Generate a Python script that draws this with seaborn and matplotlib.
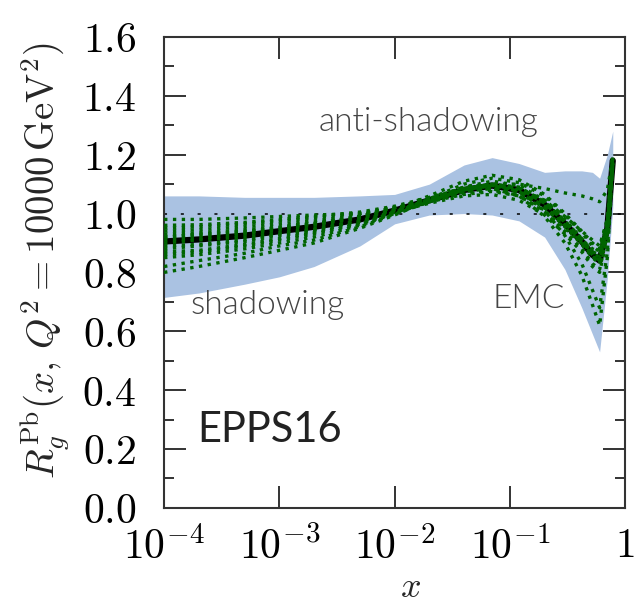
import numpy as np
import pandas as pd
import matplotlib
matplotlib.use("Agg")
import matplotlib.pyplot as plt
import seaborn as sns

x_nodes = [1e-4, 2e-4, 5e-4, 1e-3, 2e-3, 5e-3, 1e-2, 2e-2, 4e-2, 7e-2,
           0.12, 0.2, 0.3, 0.42, 0.52, 0.6, 0.7, 0.78]

central = [0.905, 0.912, 0.925, 0.94, 0.955, 0.98, 1.01, 1.045, 1.08, 1.095,
           1.08, 1.03, 0.965, 0.905, 0.86, 0.84, 0.95, 1.18]

band_hi = [1.06, 1.06, 1.055, 1.055, 1.055, 1.06, 1.065, 1.10, 1.165, 1.19,
           1.17, 1.14, 1.145, 1.145, 1.14, 1.12, 1.20, 1.28]
band_lo = [0.715, 0.73, 0.76, 0.785, 0.82, 0.89, 0.965, 0.995, 1.0, 0.995,
           0.975, 0.92, 0.81, 0.68, 0.59, 0.53, 0.78, 1.02]

# error-set members
members = [
    [0.98, 0.98, 0.985, 0.99, 0.995, 1.0, 1.02, 1.04, 1.065, 1.075, 1.06, 1.01, 0.95, 0.9, 0.87, 0.86, 0.96, 1.17],
    [0.80, 0.82, 0.85, 0.875, 0.90, 0.95, 0.995, 1.045, 1.09, 1.11, 1.095, 1.045, 0.98, 0.915, 0.87, 0.85, 0.95, 1.19],
    [0.95, 0.955, 0.965, 0.975, 0.985, 1.0, 1.02, 1.05, 1.08, 1.09, 1.07, 1.02, 0.955, 0.895, 0.85, 0.83, 0.94, 1.18],
    [0.85, 0.86, 0.88, 0.90, 0.92, 0.96, 1.0, 1.04, 1.085, 1.10, 1.09, 1.04, 0.975, 0.915, 0.87, 0.85, 0.96, 1.19],
    [0.93, 0.935, 0.945, 0.955, 0.97, 0.99, 1.015, 1.06, 1.11, 1.13, 1.115, 1.065, 1.0, 0.94, 0.9, 0.88, 0.98, 1.2],
    [0.88, 0.89, 0.905, 0.925, 0.94, 0.97, 1.005, 1.035, 1.06, 1.065, 1.045, 0.995, 0.93, 0.87, 0.82, 0.80, 0.92, 1.17],
    [0.91, 0.915, 0.93, 0.945, 0.96, 0.985, 1.01, 1.045, 1.08, 1.10, 1.10, 1.085, 1.07, 1.06, 1.05, 1.04, 1.08, 1.19],
    [0.90, 0.91, 0.92, 0.935, 0.95, 0.975, 1.005, 1.04, 1.075, 1.085, 1.06, 0.99, 0.9, 0.79, 0.69, 0.62, 0.85, 1.16],
    [0.92, 0.925, 0.935, 0.95, 0.965, 0.99, 1.015, 1.05, 1.09, 1.10, 1.075, 1.01, 0.925, 0.83, 0.74, 0.68, 0.87, 1.17],
    [0.96, 0.962, 0.97, 0.98, 0.99, 1.005, 1.025, 1.055, 1.085, 1.095, 1.075, 1.02, 0.96, 0.91, 0.88, 0.87, 0.97, 1.18],
    [0.82, 0.84, 0.865, 0.89, 0.91, 0.955, 0.998, 1.04, 1.08, 1.095, 1.08, 1.035, 0.97, 0.91, 0.86, 0.83, 0.94, 1.18],
    [0.87, 0.875, 0.895, 0.915, 0.935, 0.965, 1.0, 1.05, 1.10, 1.12, 1.105, 1.06, 0.995, 0.935, 0.89, 0.87, 0.96, 1.19],
    [0.94, 0.945, 0.955, 0.965, 0.975, 0.995, 1.02, 1.045, 1.07, 1.08, 1.06, 1.005, 0.94, 0.88, 0.83, 0.81, 0.93, 1.17],
    [0.86, 0.87, 0.89, 0.91, 0.93, 0.965, 1.005, 1.045, 1.08, 1.095, 1.085, 1.045, 0.99, 0.94, 0.91, 0.89, 0.98, 1.2],
    [0.89, 0.895, 0.91, 0.93, 0.945, 0.975, 1.008, 1.048, 1.085, 1.10, 1.085, 1.035, 0.97, 0.905, 0.86, 0.84, 0.95, 1.18],
    [0.92, 0.93, 0.94, 0.952, 0.965, 0.985, 1.012, 1.042, 1.075, 1.09, 1.075, 1.025, 0.96, 0.90, 0.855, 0.835, 0.945, 1.18],
]

y_ticks = [0.0, 0.2, 0.4, 0.6, 0.8, 1.0, 1.2, 1.4, 1.6]
x_ticks = [1e-4, 1e-3, 1e-2, 1e-1, 1]
x_ticklabels = ["$10^{-4}$", "$10^{-3}$", "$10^{-2}$", "$10^{-1}$", "$1$"]

sns.set_theme(style="ticks")
plt.rcParams["font.family"] = ["Lato", "DejaVu Sans"]
plt.rcParams["mathtext.fontset"] = "cm"
plt.rcParams["lines.dash_capstyle"] = "butt"

fig = plt.figure(figsize=(6.36, 6.06), dpi=100)
ax = fig.add_axes([0.258, 0.162, 0.725, 0.777])

ax.fill_between(x_nodes, band_lo, band_hi, color="#aac2e2", lw=0, zorder=1)
ax.axhline(1.0, color="black", lw=1.1, ls=(0, (2, 9)), zorder=2)

sns.lineplot(x=x_nodes, y=central, color="black", lw=4.5, ax=ax, zorder=3)

for m in members:
    sns.lineplot(x=x_nodes, y=m, color="#006400", lw=2.4, ls=":", ax=ax, zorder=4)

ax.set_xscale("log")
ax.set_xlim(1e-4, 1)
ax.set_ylim(0, 1.6)
ax.set_xticks(x_ticks)
ax.set_xticklabels(x_ticklabels)
ax.set_yticks(y_ticks)
ax.set_yticklabels(["$%.1f$" % v for v in y_ticks])
ax.yaxis.set_minor_locator(matplotlib.ticker.MultipleLocator(0.1))
ax.xaxis.set_minor_locator(matplotlib.ticker.LogLocator(base=10, subs=np.arange(2, 10)))
ax.xaxis.set_minor_formatter(matplotlib.ticker.NullFormatter())

ax.tick_params(which="both", direction="in", top=True, right=True, colors="#333333",
               labelcolor="black", width=1.4)
ax.tick_params(axis="y", which="major", length=16, pad=20, labelsize=30)
ax.tick_params(axis="y", which="minor", length=7)
ax.tick_params(axis="x", which="major", length=16, pad=13, labelsize=30)
ax.tick_params(axis="x", which="minor", length=6)
for s in ax.spines.values():
    s.set_linewidth(1.5)
    s.set_color("#333333")

ax.set_xlabel("$x$", fontsize=26, va="center")
ax.xaxis.set_label_coords(0.535, -0.167)
ax.set_ylabel(r"$R_g^{\rm Pb}(x,\,Q^2=10000\,{\rm GeV}^2)$", fontsize=28)
ax.yaxis.set_label_coords(-0.2, 0.525)

ax.text(10**-1.71, 1.31, "anti-shadowing", fontsize=24, color="#444444",
        fontweight=300, ha="center", va="center")
ax.text(1.7e-4, 0.69, "shadowing", fontsize=24, color="#444444",
        fontweight=300, ha="left", va="center")
ax.text(10**-1.15, 0.71, "EMC", fontsize=24, color="#444444",
        fontweight=300, ha="left", va="center")
ax.text(10**-3.71, 0.265, "EPPS16", fontsize=30, color="#222222",
        ha="left", va="center")

fig.savefig("out.png", dpi=100)
